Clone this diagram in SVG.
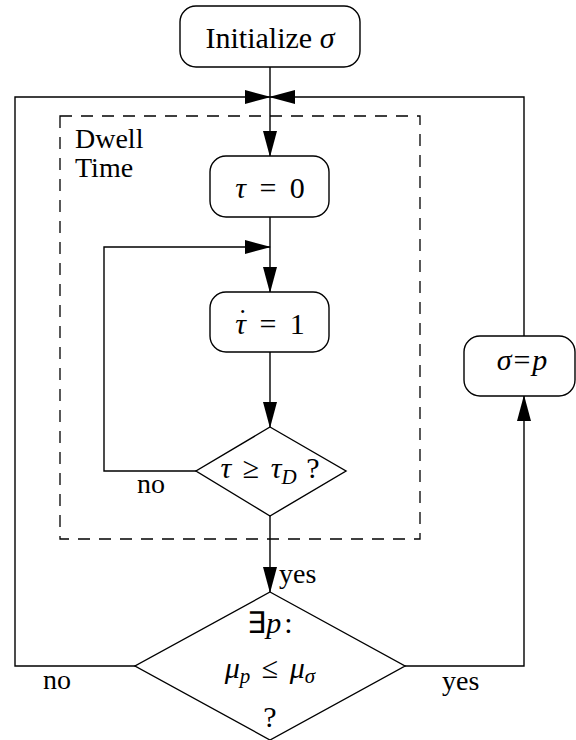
<svg xmlns="http://www.w3.org/2000/svg" width="576" height="740" viewBox="0 0 576 740">
<style>
.box{fill:#fff;stroke:#000;stroke-width:1.4}
.ln{fill:none;stroke:#000;stroke-width:1.4}
.dash{fill:none;stroke:#000;stroke-width:1.3;stroke-dasharray:12 9}
text{font-family:'Liberation Serif','Times New Roman',serif;font-size:28px;fill:#000}
.big{font-size:30px}
.c{text-anchor:middle}
.m{font-style:italic}
.s{font-size:21px;font-style:italic}
</style>
<defs>
<marker id="ah" markerUnits="userSpaceOnUse" markerWidth="26" markerHeight="14" viewBox="0 0 26 14" refX="25" refY="7" orient="auto">
<path d="M0,0 L26,7 L0,14 Z" fill="#000"/>
</marker>
</defs>
<rect width="576" height="740" fill="#fff"/>
<g id="dwell-time-frame">
<rect class="dash" x="60" y="116" width="360" height="423"/>
<text x="75" y="148" font-size="27">Dwell</text>
<text x="75" y="177" font-size="27">Time</text>
</g>
<g id="connectors">
<path class="ln" d="M270,67 V156" marker-end="url(#ah)"/>
<path class="ln" d="M135,666 H15 V97 H270" marker-end="url(#ah)"/>
<path class="ln" d="M405,666 H524 V396" marker-end="url(#ah)"/>
<path class="ln" d="M524,336 V97 H270" marker-end="url(#ah)"/>
<path class="ln" d="M270,217 V292" marker-end="url(#ah)"/>
<path class="ln" d="M196,471 H104 V247 H270" marker-end="url(#ah)"/>
<path class="ln" d="M270,352 V427" marker-end="url(#ah)"/>
<path class="ln" d="M270,516 V592" marker-end="url(#ah)"/>
<text x="137" y="493">no</text>
<text x="279" y="583">yes</text>
<text x="43" y="689">no</text>
<text x="442" y="690">yes</text>
</g>
<g id="init">
<rect class="box" x="180" y="6" width="180" height="61" rx="16"/>
<text class="c big" x="270" y="48" font-size="30">Initialize <tspan class="m">σ</tspan></text>
</g>
<g id="tau-reset">
<rect class="box" x="210" y="156" width="119" height="61" rx="16"/>
<text class="c big" x="270" y="198"><tspan class="m">τ</tspan><tspan dx="6"> = </tspan><tspan dx="6">0</tspan></text>
</g>
<g id="tau-dot">
<rect class="box" x="210" y="292" width="119" height="60" rx="16"/>
<text class="c big" x="270" y="334"><tspan class="m">τ</tspan><tspan dx="6"> = </tspan><tspan dx="6">1</tspan></text>
<text x="238" y="328" font-size="30">˙</text>
</g>
<g id="dwell-check">
<polygon class="box" points="270,427 346,471 270,516 196,471"/>
<text class="c big" x="270" y="478"><tspan class="m">τ</tspan><tspan dx="4"> ≥ </tspan><tspan class="m" dx="4">τ</tspan><tspan class="s" dy="6">D</tspan><tspan dy="-6" dx="2"> ?</tspan></text>
</g>
<g id="switch-check">
<polygon class="box" points="270,592 405,666 270,740 135,666"/>
<text class="c big" x="270" y="633">∃<tspan class="m">p</tspan><tspan dx="3">:</tspan></text>
<text class="c big" x="270" y="678"><tspan class="m">μ</tspan><tspan class="s" dy="5">p</tspan><tspan dy="-5" dx="4"> ≤ </tspan><tspan class="m" dx="4">μ</tspan><tspan class="s" dy="5">σ</tspan></text>
<text class="c big" x="270" y="727">?</text>
</g>
<g id="switch">
<rect class="box" x="464" y="336" width="111" height="60" rx="16"/>
<text class="c big" x="522" y="370"><tspan class="m">σ</tspan><tspan dx="2">=</tspan><tspan class="m" dx="2">p</tspan></text>
</g>
</svg>
